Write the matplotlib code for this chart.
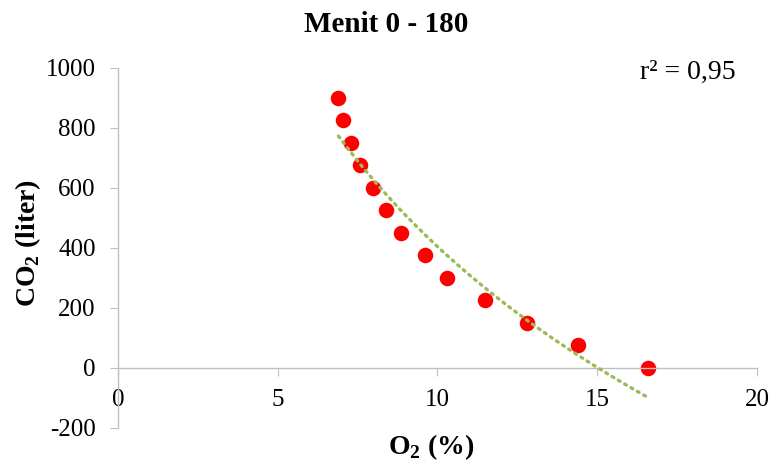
import numpy as np
import matplotlib
matplotlib.use("Agg")
import matplotlib.pyplot as plt

o2 = [6.9, 7.05, 7.28, 7.56, 7.97, 8.38, 8.87, 9.6, 10.3, 11.5, 12.8, 14.4, 16.6]
co2 = [900, 825, 750, 675, 600, 525, 450, 375, 300, 225, 150, 75, 0]
xticks = [0, 5, 10, 15, 20]
yticks = [-200, 0, 200, 400, 600, 800, 1000]
title = "Menit 0 - 180"
r2_text = "r² = 0,95"

plt.rcParams['font.family'] = ['Liberation Serif', 'DejaVu Serif']
plt.rcParams['axes.unicode_minus'] = False

fig = plt.figure(figsize=(7.72, 4.65), dpi=100)
ax = fig.add_axes([0.1528, 0.0796, 0.8278, 0.7742])

x = np.array(o2)
y = np.array(co2)
a, b = np.polyfit(np.log(x), y, 1)
xf = np.linspace(x.min(), x.max(), 200)
yf = a * np.log(xf) + b
ax.plot(xf, yf, linestyle=(0, (0.6, 1.6)), color='#9BBB59', linewidth=2.4,
        dash_capstyle='round', zorder=3)
ax.scatter(x, y, s=125, color='#FF0000', zorder=2, linewidths=0)

ax.set_xlim(0, 20)
ax.set_ylim(-200, 1000)
ax.set_xticks(xticks)
ax.set_yticks(yticks)

for s in ['top', 'right']:
    ax.spines[s].set_visible(False)
ax.spines['bottom'].set_position(('data', 0))
for s in ['left', 'bottom']:
    ax.spines[s].set_color('#BFBFBF')
    ax.spines[s].set_linewidth(1)

ax.tick_params(axis='both', which='major', direction='out', length=6,
               color='#BFBFBF', labelsize=18, labelcolor='black')
ax.tick_params(axis='x', pad=9)
ax.tick_params(axis='y', pad=10)

fig.text(0.5, 0.948, title, ha='center', va='center', fontsize=21, fontweight='bold')
fig.text(0.558, 0.039, "O$_\\mathregular{2}$ (%)", ha='center', va='center',
         fontsize=20, fontweight='bold')
fig.text(0.037, 0.477, "CO$_\\mathregular{2}$ (liter)", ha='center', va='center',
         rotation=90, fontsize=20, fontweight='bold')
fig.text(0.891, 0.845, r2_text, ha='center', va='center', fontsize=20)

fig.savefig("out.png", dpi=100)
